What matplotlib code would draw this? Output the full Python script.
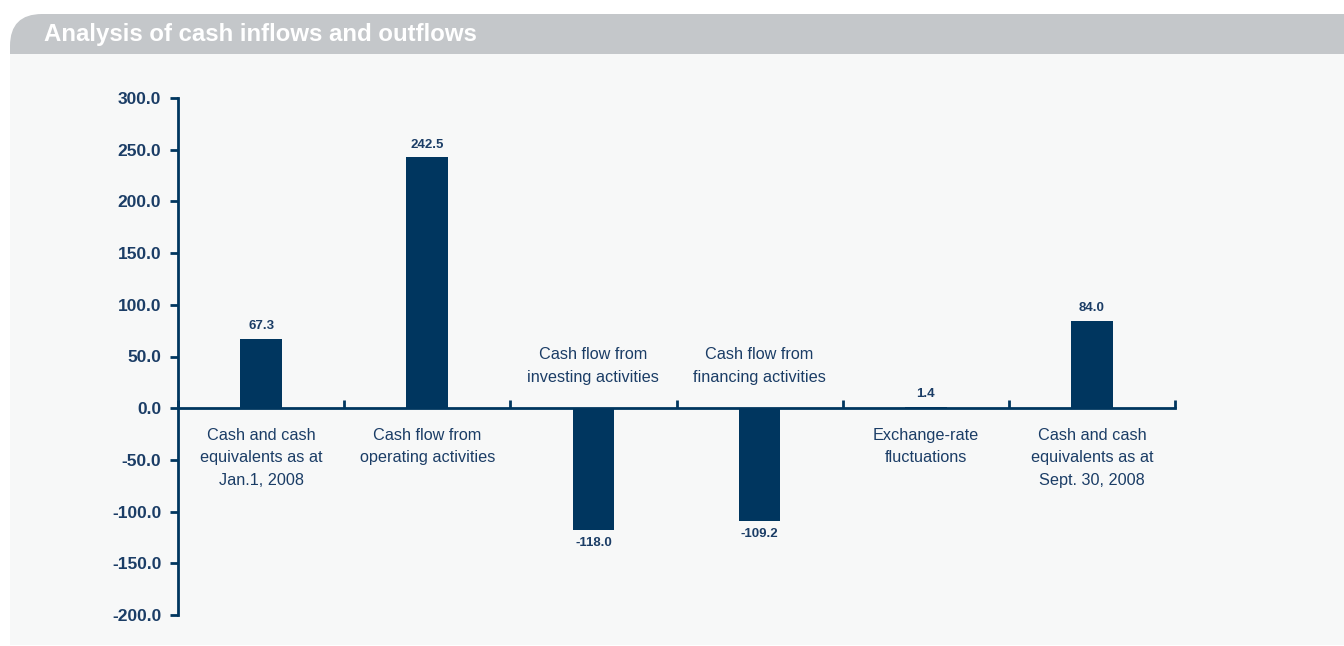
import matplotlib

matplotlib.use("Agg")
import matplotlib.pyplot as plt
from matplotlib.patches import FancyBboxPatch, Rectangle

# data
categories = [
    "Cash and cash\nequivalents as at\nJan.1, 2008",
    "Cash flow from\noperating activities",
    "Cash flow from\ninvesting activities",
    "Cash flow from\nfinancing activities",
    "Exchange-rate\nfluctuations",
    "Cash and cash\nequivalents as at\nSept. 30, 2008",
]
values = [67.3, 242.5, -118.0, -109.2, 1.4, 84.0]
y_ticks = [300, 250, 200, 150, 100, 50, 0, -50, -100, -150, -200]

BAR_COLOR = "#00365f"
TEXT_COLOR = "#1b3d66"
BAND_COLOR = "#c4c7ca"
PANEL_COLOR = "#f7f8f8"

plt.rcParams["font.family"] = ["Liberation Sans", "DejaVu Sans"]

fig = plt.figure(figsize=(13.44, 6.46), dpi=100)
fig.patch.set_facecolor("white")

# title band with rounded top-left corner (inch units, y from bottom)
band = FancyBboxPatch(
    (0.10, 6.46 - 1.00), 14.0, 0.86,
    boxstyle="round,pad=0,rounding_size=0.32",
    transform=fig.dpi_scale_trans, facecolor=BAND_COLOR, edgecolor="none", zorder=-3,
)
fig.add_artist(band)
panel = Rectangle(
    (0.10, 0.01), 13.40, 6.46 - 0.54 - 0.01,
    transform=fig.dpi_scale_trans, facecolor=PANEL_COLOR, edgecolor="none", zorder=-2,
)
fig.add_artist(panel)
fig.text(44 / 1344, 1 - 35 / 646, "Analysis of cash inflows and outflows",
         color="white", fontsize=17.3, fontweight="bold", va="center", ha="left")

ax = fig.add_axes([178 / 1344, 1 - 615 / 646, (1175 - 178) / 1344, (615 - 98) / 646])
ax.set_facecolor("none")

xs = [i + 0.5 for i in range(len(values))]
ax.bar(xs, values, width=0.25, color=BAR_COLOR, zorder=4)

ax.set_xlim(0, len(values))
ax.set_ylim(-200, 300)

for side in ["top", "right"]:
    ax.spines[side].set_visible(False)
ax.spines["bottom"].set_position(("data", 0))
for side in ["left", "bottom"]:
    ax.spines[side].set_color(BAR_COLOR)
    ax.spines[side].set_linewidth(2)
    ax.spines[side].set_zorder(3)

ax.set_yticks(y_ticks)
ax.set_yticklabels([f"{t:.1f}" for t in y_ticks])
ax.tick_params(axis="y", direction="out", length=6, width=2, color=BAR_COLOR,
               labelcolor=TEXT_COLOR, labelsize=12.5, pad=6)
for lbl in ax.get_yticklabels():
    lbl.set_fontweight("bold")

ax.set_xticks(range(len(values) + 1))
ax.set_xticklabels([])
ax.tick_params(axis="x", direction="in", length=6, width=2, color=BAR_COLOR)

for x, v, cat in zip(xs, values, categories):
    if v >= 0:
        ax.annotate(f"{v:.1f}", (x, v), xytext=(0, 5), textcoords="offset points",
                    ha="center", va="bottom", fontsize=9.5, fontweight="bold", color=TEXT_COLOR)
        ax.annotate(cat, (x, 0), xytext=(0, -14), textcoords="offset points",
                    ha="center", va="top", fontsize=11.7, color=TEXT_COLOR, linespacing=1.62)
    else:
        ax.annotate(f"{v:.1f}", (x, v), xytext=(0, -5), textcoords="offset points",
                    ha="center", va="top", fontsize=9.5, fontweight="bold", color=TEXT_COLOR)
        ax.annotate(cat, (x, 0), xytext=(0, 17), textcoords="offset points",
                    ha="center", va="bottom", fontsize=11.7, color=TEXT_COLOR, linespacing=1.62)

fig.savefig("out.png", dpi=100, facecolor=fig.get_facecolor())
